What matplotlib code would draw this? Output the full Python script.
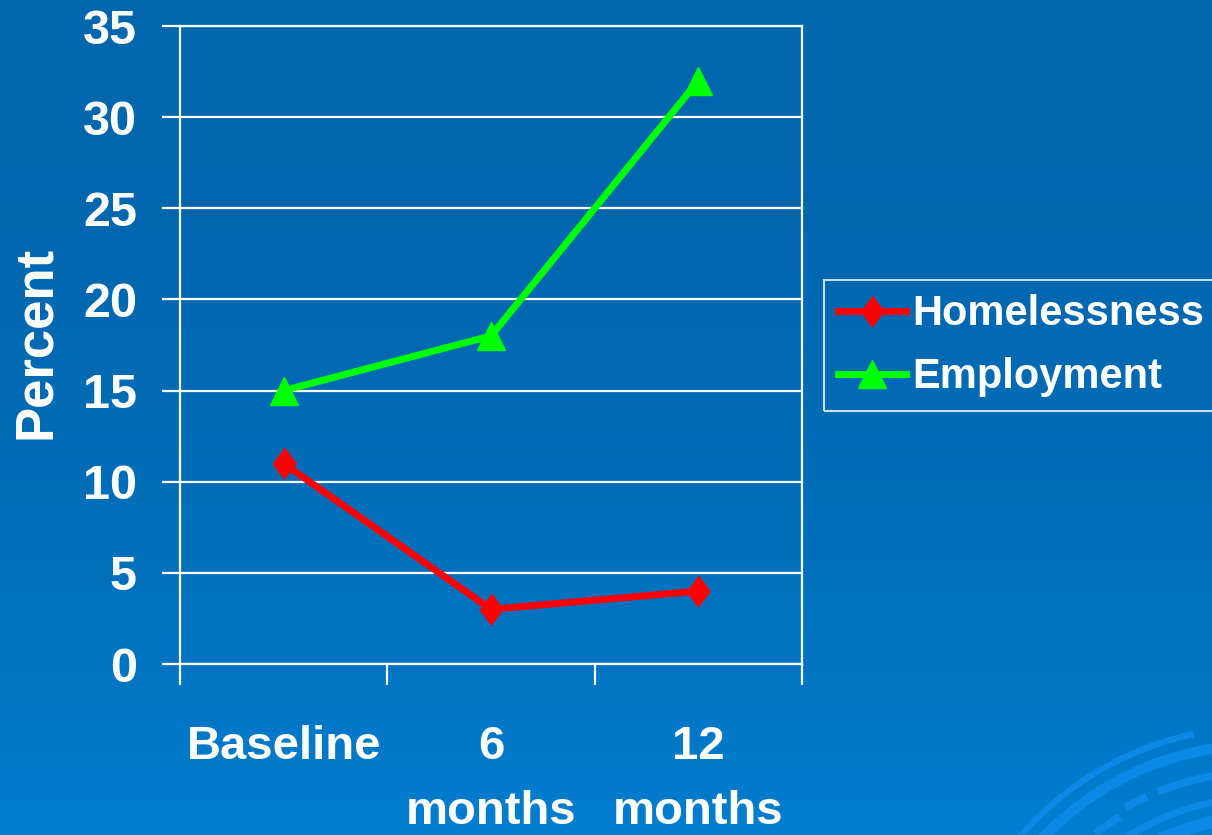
import numpy as np
import matplotlib.pyplot as plt
from matplotlib.patches import Arc

# Chart data
periods = ["Baseline", "6\nmonths", "12\nmonths"]
homelessness = [11, 3, 4]
employment = [15, 18, 32]
y_ticks = [0, 5, 10, 15, 20, 25, 30, 35]

plt.rcParams['font.family'] = ['Liberation Sans', 'DejaVu Sans']
plt.rcParams['font.weight'] = 'bold'

W, H = 1212, 835
fig = plt.figure(figsize=(W / 100, H / 100), dpi=100)

# Slide background: blue vertical gradient
bg = fig.add_axes([0, 0, 1, 1])
bg.set_axis_off()
t = np.linspace(0, 1, 256) ** 2.2
top = np.array([0, 102, 174]) / 255
bottom = np.array([0, 126, 208]) / 255
grad = top[None, :] * (1 - t[:, None]) + bottom[None, :] * t[:, None]
bg.imshow(grad[:, None, :], aspect='auto', extent=[0, W, H, 0])
bg.set_xlim(0, W)
bg.set_ylim(H, 0)

# Decorative swirl in the lower right corner (radius, width, start, end angle)
swirl = '#0A8AE6'
centre = (1260, 1045)
for r, lw, t1, t2 in [(318, 4.5, 210, 258), (300, 7.5, 205, 280),
                      (273, 5.5, 248, 280), (273, 5.5, 240.5, 245.5),
                      (268, 5.5, 232, 238.5), (247, 5, 225, 280),
                      (228, 9, 230, 280)]:
    bg.add_patch(Arc(centre, 2 * r, 2 * r, theta1=t1, theta2=t2,
                     color=swirl, lw=lw))

ax = fig.add_axes([180 / W, (H - 664) / H, 622 / W, 638 / H])
ax.set_facecolor('none')

x = np.arange(len(periods)) + 0.5
ax.plot(x, homelessness, color='#FF0000', lw=5,
        marker=[(0, 1), (0.76, 0), (0, -1), (-0.76, 0)], ms=22,
        label='Homelessness', zorder=3)
ax.plot(x, employment, color='#00FF00', lw=5, marker='^', ms=19.5,
        label='Employment', zorder=3)

ax.set_xlim(0, 3)
ax.set_ylim(0, 35)
ax.set_yticks(y_ticks)
ax.set_yticklabels([str(v) for v in y_ticks])
ax.grid(axis='y', color='white', lw=1.6)
ax.set_axisbelow(True)

ax.set_xticks([0, 1, 2, 3])
ax.set_xticklabels([])
ax.set_xticks(x, minor=True)
ax.set_xticklabels(periods, minor=True, linespacing=1.62)

for s in ax.spines.values():
    s.set_color('white')
    s.set_linewidth(1.6)

ax.tick_params(axis='y', colors='white', length=13, width=1.6, pad=18,
               labelsize=35)
ax.tick_params(axis='x', which='major', colors='white', length=15, width=1.6)
ax.tick_params(axis='x', which='minor', colors='white', length=0, pad=44,
               labelsize=34)

fig.text(36 / W, 1 - 342 / H, 'Percent', rotation=90, color='white',
         fontsize=38, fontweight='bold', ha='center', va='center')

leg = ax.legend(loc='upper left', bbox_to_anchor=(824 / W, 1 - 280 / H),
                bbox_transform=fig.transFigure, frameon=True, fancybox=False,
                fontsize=30, handlelength=1.62, handletextpad=0.15,
                borderpad=0.34, labelspacing=0.55, borderaxespad=0)
leg.get_frame().set_edgecolor('white')
leg.get_frame().set_facecolor('none')
leg.get_frame().set_linewidth(1.5)
for txt in leg.get_texts():
    txt.set_color('white')

fig.savefig('out.png', dpi=100)
